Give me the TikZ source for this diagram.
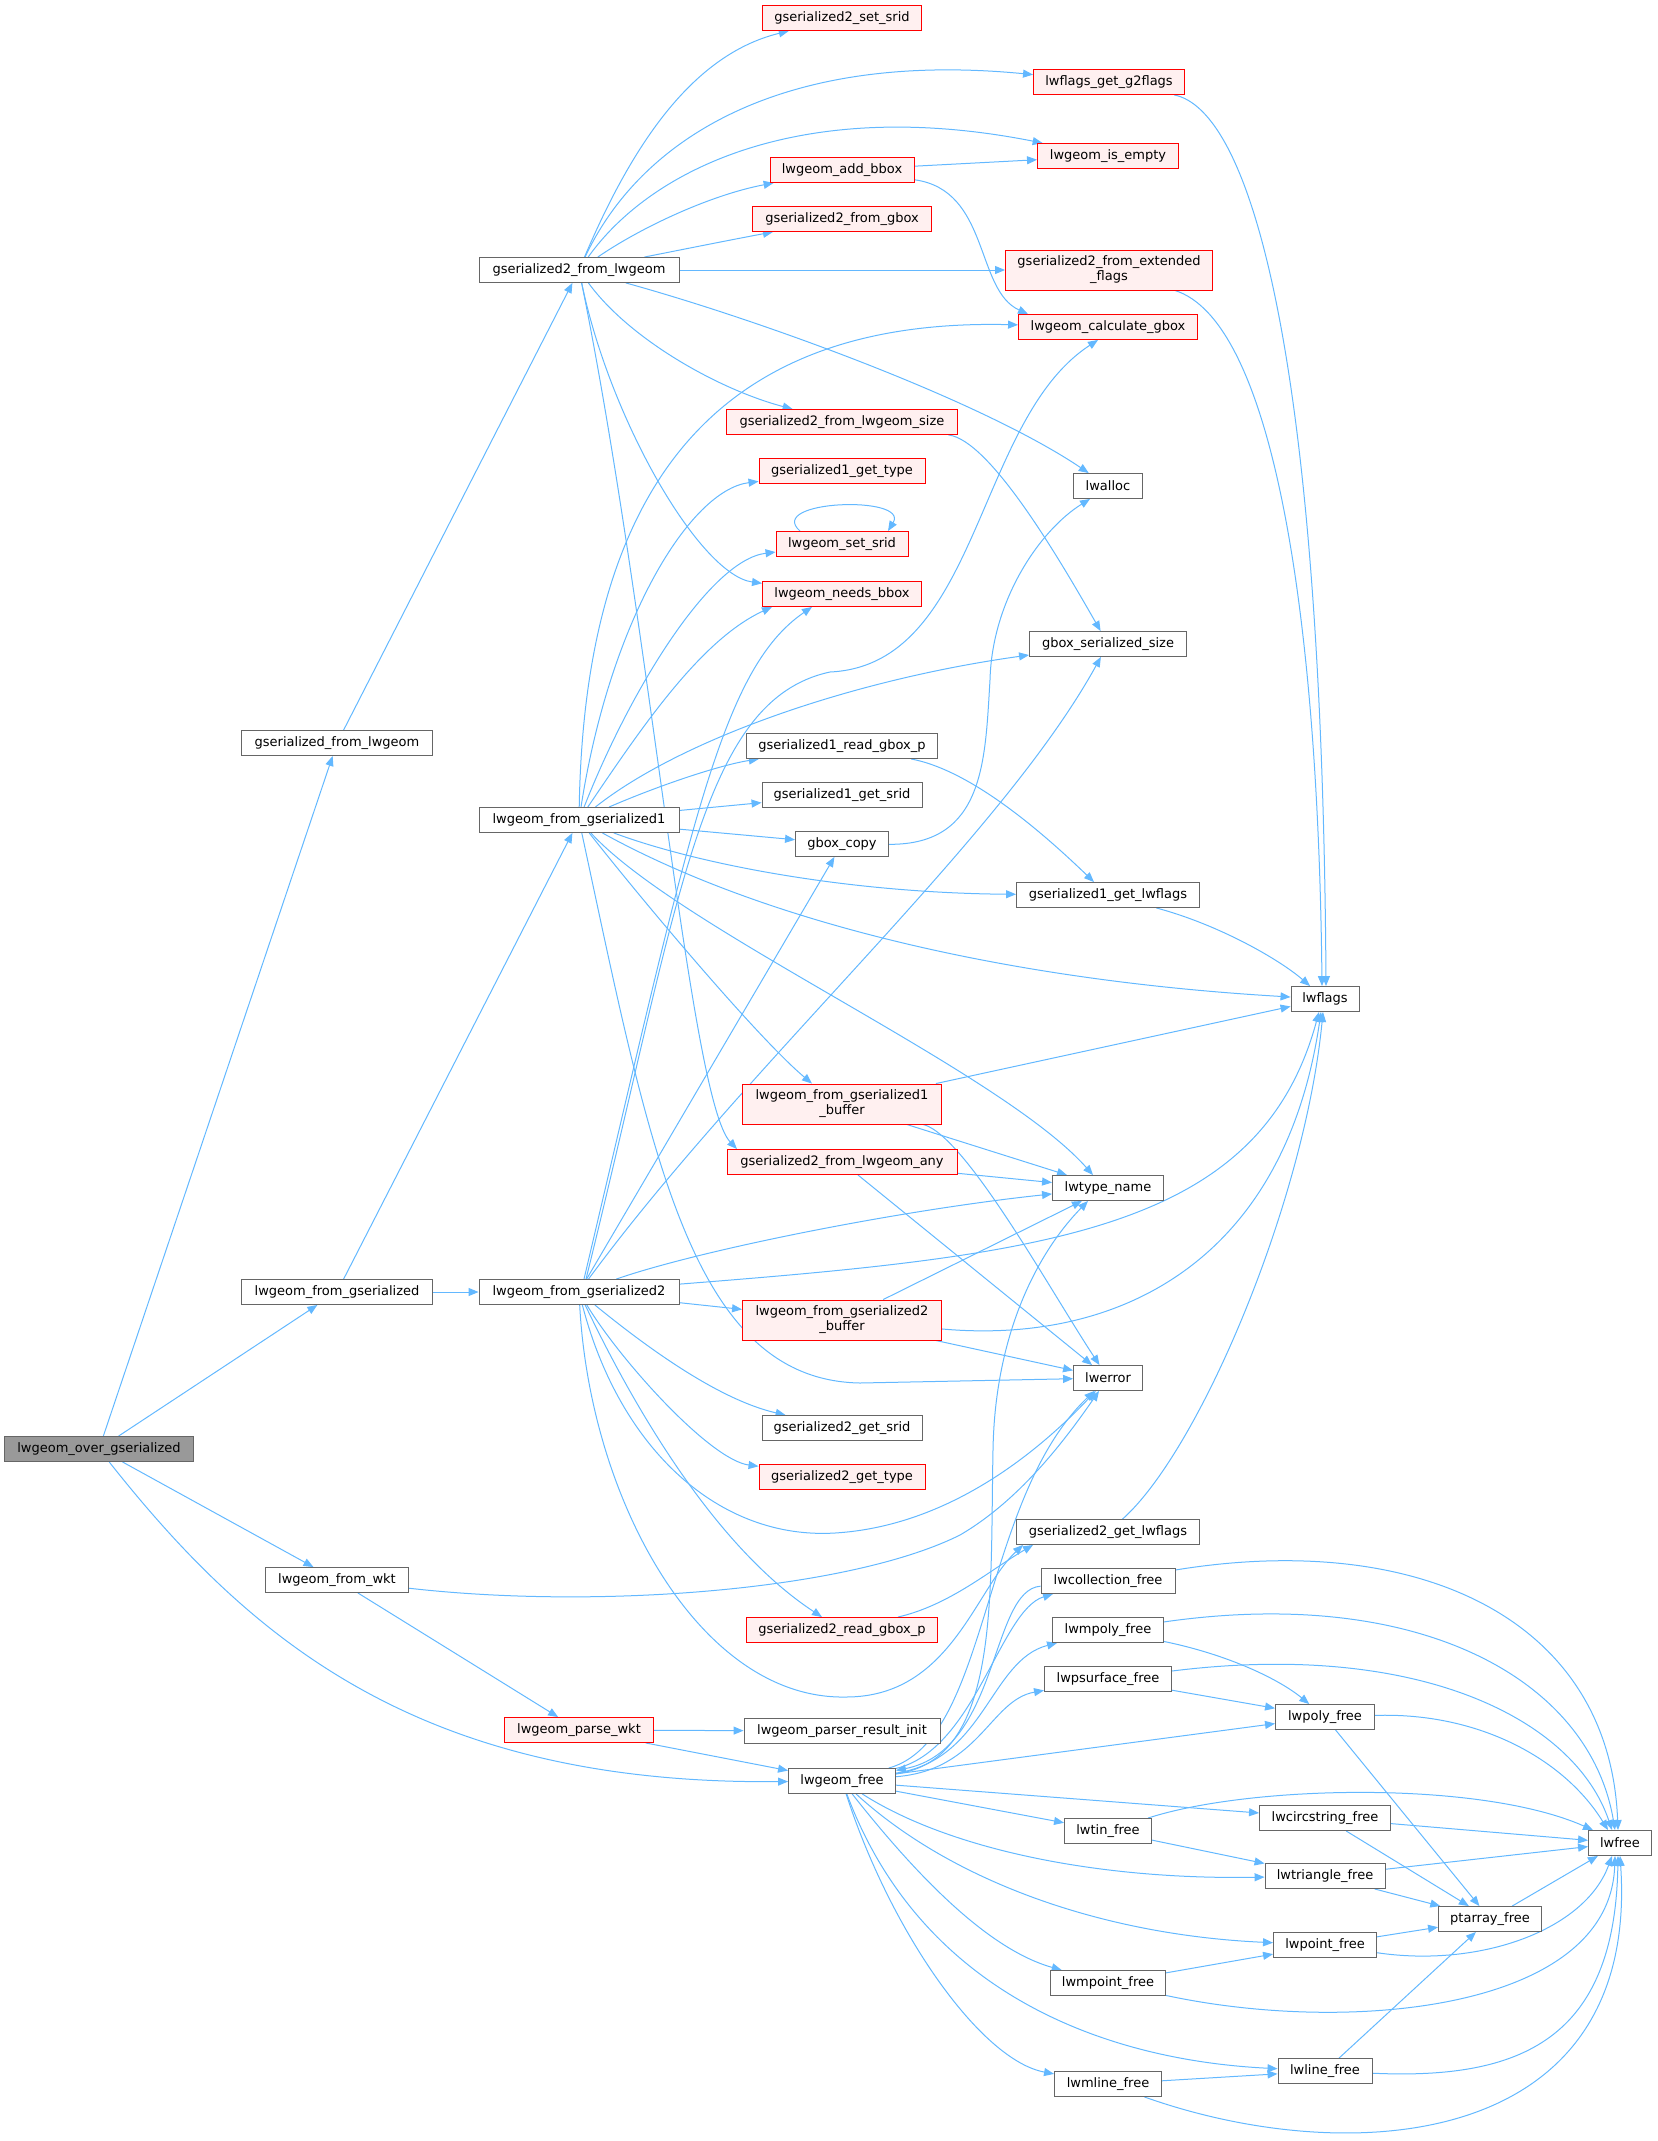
\documentclass[tikz,border=0pt]{standalone}
\usepackage{fontspec}
\setmainfont{DejaVu Sans}
\usetikzlibrary{arrows.meta}
\definecolor{edgeblue}{HTML}{63B8FF}
\definecolor{nodegray}{HTML}{666666}
\definecolor{rootfill}{HTML}{999999}
\definecolor{redfill}{HTML}{FFF0F0}
\definecolor{redline}{HTML}{FF0000}
\pgfdeclarelayer{bg}
\pgfsetlayers{bg,main}
\begin{document}
\begin{tikzpicture}[x=1pt,y=-1pt,
 fn/.style={draw=nodegray, fill=white, line width=0.9pt, rectangle, minimum height=25pt, inner xsep=3pt, inner ysep=2pt, font=\fontsize{13}{15}\selectfont, align=center},
 rfn/.style={fn, draw=redline, fill=redfill},
 rootfn/.style={fn, fill=rootfill},
 tall/.style={minimum height=40pt},
 e/.style={draw=edgeblue, line width=1pt, -{Triangle[length=10pt,width=8pt]}}]
\useasboundingbox (0,0) rectangle (1657,2141);

% nodes
\node[rootfn, minimum width=189pt] (O) at (99,1449) {lwgeom\_over\_gserialized};
\node[fn, minimum width=191pt] (GFL) at (337,743) {gserialized\_from\_lwgeom};
\node[fn, minimum width=191pt] (LFG) at (337,1292) {lwgeom\_from\_gserialized};
\node[fn, minimum width=143pt] (LFW) at (337,1580) {lwgeom\_from\_wkt};
\node[fn, minimum width=200pt] (G2L) at (579,270) {gserialized2\_from\_lwgeom};
\node[fn, minimum width=200pt] (LF1) at (579,820) {lwgeom\_from\_gserialized1};
\node[fn, minimum width=200pt] (LF2) at (579,1292) {lwgeom\_from\_gserialized2};
\node[rfn, minimum width=149pt] (LPW) at (579,1730) {lwgeom\_parse\_wkt};
\node[rfn, minimum width=159pt] (SSR) at (842,18) {gserialized2\_set\_srid};
\node[rfn, minimum width=151pt] (G2F) at (1109,82) {lwflags\_get\_g2flags};
\node[rfn, minimum width=141pt] (ISE) at (1108,156) {lwgeom\_is\_empty};
\node[rfn, minimum width=144pt] (ADB) at (842,170) {lwgeom\_add\_bbox};
\node[rfn, minimum width=179pt] (FGB) at (842,219) {gserialized2\_from\_gbox};
\node[rfn, tall, minimum width=207pt] (EXF) at (1109,270) {gserialized2\_from\_extended\\\_flags};
\node[rfn, minimum width=179pt] (CAL) at (1108,327) {lwgeom\_calculate\_gbox};
\node[rfn, minimum width=231pt] (FLS) at (842,422) {gserialized2\_from\_lwgeom\_size};
\node[rfn, minimum width=166pt] (G1T) at (842,471) {gserialized1\_get\_type};
\node[fn, minimum width=69pt] (ALC) at (1108,486) {lwalloc};
\node[rfn, minimum width=132pt] (SRD) at (842,544) {lwgeom\_set\_srid};
\node[rfn, minimum width=159pt] (NBB) at (842,594) {lwgeom\_needs\_bbox};
\node[fn, minimum width=157pt] (GSS) at (1108,644) {gbox\_serialized\_size};
\node[fn, minimum width=191pt] (R1B) at (842,746) {gserialized1\_read\_gbox\_p};
\node[fn, minimum width=160pt] (G1S) at (842,795) {gserialized1\_get\_srid};
\node[fn, minimum width=93pt] (GBC) at (842,844) {gbox\_copy};
\node[fn, minimum width=183pt] (G1F) at (1108,895) {gserialized1\_get\_lwflags};
\node[fn, minimum width=68pt] (LWF) at (1325,999) {lwflags};
\node[rfn, tall, minimum width=199pt] (B1) at (842,1104) {lwgeom\_from\_gserialized1\\\_buffer};
\node[rfn, minimum width=230pt] (ANY) at (842,1162) {gserialized2\_from\_lwgeom\_any};
\node[fn, minimum width=111pt] (LTN) at (1108,1188) {lwtype\_name};
\node[rfn, tall, minimum width=199pt] (B2) at (842,1320) {lwgeom\_from\_gserialized2\\\_buffer};
\node[fn, minimum width=69pt] (ERR) at (1108,1378) {lwerror};
\node[fn, minimum width=160pt] (G2S) at (842,1428) {gserialized2\_get\_srid};
\node[rfn, minimum width=166pt] (G2T) at (842,1477) {gserialized2\_get\_type};
\node[fn, minimum width=183pt] (G2LF) at (1108,1532) {gserialized2\_get\_lwflags};
\node[fn, minimum width=134pt] (COL) at (1108,1581) {lwcollection\_free};
\node[rfn, minimum width=191pt] (R2B) at (842,1630) {gserialized2\_read\_gbox\_p};
\node[fn, minimum width=111pt] (MPY) at (1108,1630) {lwmpoly\_free};
\node[fn, minimum width=127pt] (PSF) at (1108,1679) {lwpsurface\_free};
\node[fn, minimum width=196pt] (PRI) at (842,1731) {lwgeom\_parser\_result\_init};
\node[fn, minimum width=107pt] (FRE) at (842,1781) {lwgeom\_free};
\node[fn, minimum width=99pt] (PLY) at (1325,1717) {lwpoly\_free};
\node[fn, minimum width=87pt] (TIN) at (1108,1831) {lwtin\_free};
\node[fn, minimum width=131pt] (CIR) at (1325,1818) {lwcircstring\_free};
\node[fn, minimum width=63pt] (LFR) at (1620,1843) {lwfree};
\node[fn, minimum width=120pt] (TRI) at (1325,1876) {lwtriangle\_free};
\node[fn, minimum width=103pt] (PTA) at (1490,1919) {ptarray\_free};
\node[fn, minimum width=103pt] (PNT) at (1325,1945) {lwpoint\_free};
\node[fn, minimum width=115pt] (MPT) at (1108,1983) {lwmpoint\_free};
\node[fn, minimum width=94pt] (LIN) at (1325,2071) {lwline\_free};
\node[fn, minimum width=107pt] (MLN) at (1108,2084) {lwmline\_free};

\begin{pgfonlayer}{bg}
% root and callers
\draw[e] (O) -- (GFL);
\draw[e] (O) -- (LFG);
\draw[e] (O) -- (LFW);
\draw[e] (O) .. controls (250,1640) and (420,1785) .. (FRE);
\draw[e] (GFL) -- (G2L);
\draw[e] (LFG) -- (LF1);
\draw[e] (LFG) -- (LF2);
\draw[e] (LFW) -- (LPW);
\draw[e] (LFW) .. controls (600,1610) and (850,1590) .. (960,1535) .. controls (1020,1500) and (1065,1440) .. (ERR);
\draw[e] (LPW) -- (PRI);
\draw[e] (LPW) -- (FRE);

% gserialized2_from_lwgeom
\draw[e] (G2L) .. controls (630,150) and (690,55) .. (SSR);
\draw[e] (G2L) .. controls (640,140) and (780,50) .. (G2F);
\draw[e] (G2L) .. controls (650,170) and (800,95) .. (ISE);
\draw[e] (G2L) .. controls (640,228) and (710,195) .. (ADB);
\draw[e] (G2L) .. controls (680,250) and (730,240) .. (FGB);
\draw[e] (G2L) -- (EXF);
\draw[e] (G2L) .. controls (760,320) and (980,400) .. (ALC);
\draw[e] (G2L) .. controls (630,340) and (720,390) .. (FLS);
\draw[e] (G2L) .. controls (610,420) and (700,575) .. (NBB);
\draw[e] (G2L) .. controls (650,620) and (690,1100) .. ([xshift=-105pt]ANY.north);

\draw[e] (ADB) -- (ISE);
\draw[e] (ADB) .. controls (990,190) and (975,290) .. ([xshift=-80pt]CAL.north);
\draw[e] (G2F) .. controls (1250,110) and (1322,350) .. ([xshift=1pt]LWF.north);
\draw[e] (EXF) .. controls (1270,320) and (1318,600) .. ([xshift=-3pt]LWF.north);
\draw[e] (G1F) .. controls (1220,925) and (1280,960) .. (LWF);
\draw[e] (FLS) .. controls (990,440) and (1060,560) .. (GSS);
\draw[e] (R1B) .. controls (970,770) and (1040,830) .. ([xshift=-14pt]G1F.north);
\draw[e] (GBC) .. controls (985,845) and (985,760) .. (990,680) .. controls (992,600) and (1040,530) .. ([xshift=-18pt]ALC.south);
\draw[e] ([xshift=-42pt]SRD.north) .. controls (765,500) and (910,495) .. ([xshift=46pt]SRD.north);

% lwgeom_from_gserialized1
\draw[e] (LF1) .. controls (610,620) and (690,490) .. (G1T);
\draw[e] (LF1) .. controls (630,690) and (710,560) .. (SRD);
\draw[e] (LF1) .. controls (640,730) and (700,640) .. ([xshift=-70pt]NBB.south);
\draw[e] (LF1) .. controls (585,470) and (730,318) .. (CAL);
\draw[e] (LF1) .. controls (680,740) and (850,680) .. (GSS);
\draw[e] (LF1) .. controls (660,785) and (720,765) .. (R1B);
\draw[e] (LF1) -- (G1S);
\draw[e] (LF1) -- (GBC);
\draw[e] (LF1) .. controls (700,865) and (850,893) .. (G1F);
\draw[e] (LF1) .. controls (760,920) and (1000,980) .. (LWF);
\draw[e] (LF1) .. controls (650,910) and (760,1040) .. ([xshift=-30pt]B1.north);
\draw[e] (LF1) .. controls (680,930) and (1000,1070) .. ([xshift=-15pt]LTN.north);
\draw[e] (LF1) .. controls (650,1150) and (690,1380) .. (860,1383) -- (ERR);

% lwgeom_from_gserialized2
\draw[e] ([xshift=5pt]LF2.north) .. controls (690,830) and (720,670) .. ([xshift=-30pt]NBB.south);
\draw[e] ([xshift=7pt]LF2.north) .. controls (680,900) and (700,700) .. (830,672) .. controls (980,665) and (975,420) .. ([xshift=-10pt]CAL.south);
\draw[e] (LF2) .. controls (750,1060) and (1000,840) .. (GSS);
\draw[e] (LF2) -- (GBC);
\draw[e] (LF2) .. controls (700,1250) and (900,1210) .. (LTN);
\draw[e] (LF2) .. controls (1050,1255) and (1260,1230) .. ([xshift=-6pt]LWF.south);
\draw[e] (LF2) -- (B2);
\draw[e] (LF2) .. controls (620,1450) and (720,1540) .. (835,1533) .. controls (950,1526) and (1040,1450) .. (ERR);
\draw[e] (LF2) .. controls (650,1350) and (720,1400) .. (G2S);
\draw[e] (LF2) .. controls (620,1360) and (710,1460) .. (G2T);
\draw[e] (LF2) .. controls (640,1420) and (720,1550) .. ([xshift=-20pt]R2B.north);
\draw[e] (LF2) .. controls (590,1500) and (700,1700) .. (846,1697) .. controls (950,1697) and (975,1590) .. ([xshift=-85pt]G2LF.south);

% buffers and any
\draw[e] (B1) -- (LWF);
\draw[e] (B1) -- (LTN);
\draw[e] (B1) .. controls (965,1135) and (1050,1290) .. (ERR);
\draw[e] (ANY) -- (LTN);
\draw[e] (ANY) -- (ERR);
\draw[e] (B2) -- (LTN);
\draw[e] (B2) -- (ERR);
\draw[e] (B2) .. controls (1120,1345) and (1285,1260) .. ([xshift=-4pt]LWF.south);
\draw[e] (G2LF) .. controls (1200,1450) and (1305,1200) .. ([xshift=-2pt]LWF.south);
\draw[e] (R2B) .. controls (950,1605) and (990,1570) .. ([xshift=-75pt]G2LF.south);

% lwgeom_free
\draw[e] (FRE) .. controls (990,1740) and (980,1500) .. (ERR);
\draw[e] (FRE) .. controls (1000,1760) and (990,1600) .. (993,1450) .. controls (995,1330) and (1040,1250) .. ([xshift=-20pt]LTN.south);
\draw[e] (FRE) .. controls (975,1750) and (1000,1610) .. ([xshift=-55pt]COL.south);
\draw[e] (COL) .. controls (990,1590) and (1000,1750) .. (FRE);
\draw[e] (FRE) .. controls (985,1760) and (990,1660) .. (MPY);
\draw[e] (FRE) .. controls (980,1770) and (990,1700) .. (PSF);
\draw[e] (FRE) -- (PLY);
\draw[e] (FRE) -- (CIR);
\draw[e] (FRE) -- (TIN);
\draw[e] (FRE) .. controls (950,1850) and (1100,1880) .. (TRI);
\draw[e] (FRE) .. controls (950,1880) and (1100,1935) .. (PNT);
\draw[e] (FRE) .. controls (920,1880) and (990,1950) .. (MPT);
\draw[e] (FRE) .. controls (920,1990) and (1100,2060) .. (LIN);
\draw[e] (FRE) .. controls (890,1930) and (980,2060) .. (MLN);

% free functions
\draw[e] (COL) .. controls (1420,1530) and (1610,1620) .. ([xshift=-2pt]LFR.north);
\draw[e] (MPY) .. controls (1420,1585) and (1590,1680) .. ([xshift=-5pt]LFR.north);
\draw[e] (PSF) .. controls (1420,1640) and (1575,1720) .. ([xshift=-8pt]LFR.north);
\draw[e] (PLY) .. controls (1480,1712) and (1565,1760) .. ([xshift=-12pt]LFR.north);
\draw[e] (TIN) .. controls (1250,1785) and (1480,1780) .. ([xshift=-27pt]LFR.north);
\draw[e] (CIR) -- (LFR);
\draw[e] (TRI) -- (LFR);
\draw[e] (PTA) -- (LFR);
\draw[e] (PNT) .. controls (1480,1968) and (1585,1930) .. ([xshift=-8pt]LFR.south);
\draw[e] (MPT) .. controls (1350,2035) and (1610,2010) .. ([xshift=-5pt]LFR.south);
\draw[e] (LIN) .. controls (1520,2080) and (1615,2040) .. ([xshift=-2pt]LFR.south);
\draw[e] (MLN) .. controls (1350,2170) and (1640,2150) .. (LFR.south);
\draw[e] (MPY) .. controls (1230,1655) and (1280,1680) .. (PLY);
\draw[e] (PSF) -- (PLY);
\draw[e] (PLY) -- (PTA);
\draw[e] (CIR) -- (PTA);
\draw[e] (TRI) -- (PTA);
\draw[e] (PNT) -- (PTA);
\draw[e] (LIN) -- (PTA);
\draw[e] (TIN) -- (TRI);
\draw[e] (MPT) -- (PNT);
\draw[e] (MLN) -- (LIN);
\end{pgfonlayer}
\end{tikzpicture}
\end{document}
